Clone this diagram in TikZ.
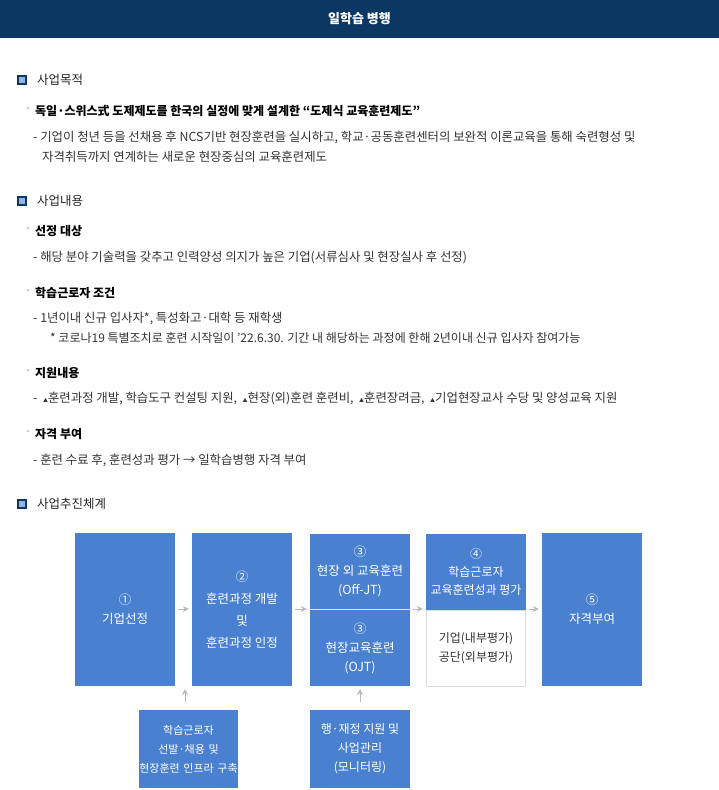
\documentclass[tikz,border=0pt]{standalone}
\usepackage{fontspec}
\setmainfont{Noto Sans CJK KR}
\definecolor{navy}{HTML}{0B3863}
\definecolor{bx}{HTML}{4A80D0}
\definecolor{txt}{HTML}{333333}
\usetikzlibrary{arrows.meta}
\tikzset{
  t/.style={anchor=west,inner sep=0pt,text=txt,font=\fontsize{12.4}{14}\selectfont},
  h/.style={anchor=west,inner sep=0pt,text=black!85,font=\fontsize{12.5}{14}\selectfont},
  b/.style={anchor=west,inner sep=0pt,text=black,font=\fontsize{12}{14}\selectfont\bfseries},
  blue/.style={fill=bx,draw=none,text=white,align=center,font=\fontsize{12.5}{19}\selectfont},
  arr/.style={-{Stealth[length=6pt,width=6pt]},draw=gray!55,line width=0.8pt}
}
\begin{document}
\begin{tikzpicture}[x=1pt,y=-1pt]
\useasboundingbox (0,0) rectangle (719,790);
\fill[white] (0,0) rectangle (719,790);
\fill[navy] (0,0) rectangle (719,38);
\node[text=white,font=\fontsize{13}{15}\selectfont\bfseries] (title) at (359.5,19) {일학습 병행};
\foreach \y/\n in {80/i1,201/i2,504/i3}{
  \node[draw=navy,fill=bx!60,line width=1.2pt,minimum size=8pt,inner sep=0pt] (\n) at (22,\y) {};
}
\node[h] (s1) at (37,80) {사업목적};
\node[h] (s2) at (37,201) {사업내용};
\node[h] (s3) at (37,504) {사업추진체계};
\foreach \y/\n in {111/d1,231/d2,293/d3,373/d4,434/d5}{
  \node[circle,fill=gray!50,inner sep=0pt,minimum size=2.5pt] (\n) at (28,\y-3) {};
}
\node[b] (l1) at (35,111) {독일·스위스式 도제제도를 한국의 실정에 맞게 설계한 “도제식 교육훈련제도”};
\node[t] (l2) at (33,137) {- 기업이 청년 등을 선채용 후 NCS기반 현장훈련을 실시하고, 학교·공동훈련센터의 보완적 이론교육을 통해 숙련형성 및};
\node[t] (l3) at (42,157) {자격취득까지 연계하는 새로운 현장중심의 교육훈련제도};
\node[b] (l4) at (35,231) {선정 대상};
\node[t] (l5) at (33,258) {- 해당 분야 기술력을 갖추고 인력양성 의지가 높은 기업(서류심사 및 현장실사 후 선정)};
\node[b] (l6) at (35,293) {학습근로자 조건};
\node[t] (l7) at (33,319) {- 1년이내 신규 입사자*, 특성화고·대학 등 재학생};
\node[t,font=\fontsize{12}{14}\selectfont] (l8) at (50,338) {* 코로나19 특별조치로 훈련 시작일이 ’22.6.30. 기간 내 해당하는 과정에 한해 2년이내 신규 입사자 참여가능};
\node[b] (l9) at (35,373) {지원내용};
\node[t] (l10) at (33,399) {-\ \ {\tiny▲}훈련과정 개발, 학습도구 컨설팅 지원,\ \ {\tiny▲}현장(외)훈련 훈련비,\ \ {\tiny▲}훈련장려금,\ \ {\tiny▲}기업현장교사 수당 및 양성교육 지원};
\node[b] (l11) at (35,434) {자격 부여};
\node[t] (l12) at (33,460) {- 훈련 수료 후, 훈련성과 평가 → 일학습병행 자격 부여};
\node[blue,minimum width=100pt,minimum height=153pt] (b1) at (125,609.5) {①\\기업선정};
\node[blue,minimum width=100pt,minimum height=153pt,font=\fontsize{12.5}{22}\selectfont] (b2) at (242,609.5) {②\\훈련과정 개발\\및\\훈련과정 인정};
\node[blue,minimum width=100pt,minimum height=76pt] (b3a) at (360,571.5) {③\\현장 외 교육훈련\\(Off-JT)};
\node[blue,minimum width=100pt,minimum height=76pt] (b3b) at (360,648) {③\\현장교육훈련\\(OJT)};
\draw[white!80!bx,line width=0.6pt] (b3a.south west) -- (b3a.south east);
\node[blue,minimum width=100pt,minimum height=76pt,font=\fontsize{12}{18}\selectfont] (b4a) at (476,571.5) {④\\학습근로자\\교육훈련성과 평가};
\node[draw=gray!30,fill=white,text=txt,align=center,minimum width=99pt,minimum height=76pt,font=\fontsize{12}{19}\selectfont] (b4b) at (476,648) {기업(내부평가)\\공단(외부평가)};
\node[blue,minimum width=100pt,minimum height=153pt] (b5) at (592,609.5) {⑤\\자격부여};
\node[blue,inner xsep=0pt,text width=99pt,minimum height=78pt,font=\fontsize{11}{19}\selectfont] (c1) at (188.5,749) {학습근로자\\선발·채용 및\\현장훈련 인프라 구축};
\node[blue,minimum width=100pt,minimum height=78pt,font=\fontsize{12}{19}\selectfont] (c2) at (360,749) {행·재정 지원 및\\사업관리\\(모니터링)};
\draw[arr] ([xshift=3pt]b1.east |- 0,609) -- ([xshift=-3pt]b2.west |- 0,609);
\draw[arr] ([xshift=3pt]b2.east |- 0,609) -- ([xshift=-3pt]b3a.west |- 0,609);
\draw[arr] ([xshift=3pt]b3a.east |- 0,609) -- ([xshift=-3pt]b4a.west |- 0,609);
\draw[arr] ([xshift=3pt]b4a.east |- 0,609) -- ([xshift=-3pt]b5.west |- 0,609);
\draw[arr] (185,702) -- (185,689);
\draw[arr] (360,702) -- (360,689);
\end{tikzpicture}
\end{document}
